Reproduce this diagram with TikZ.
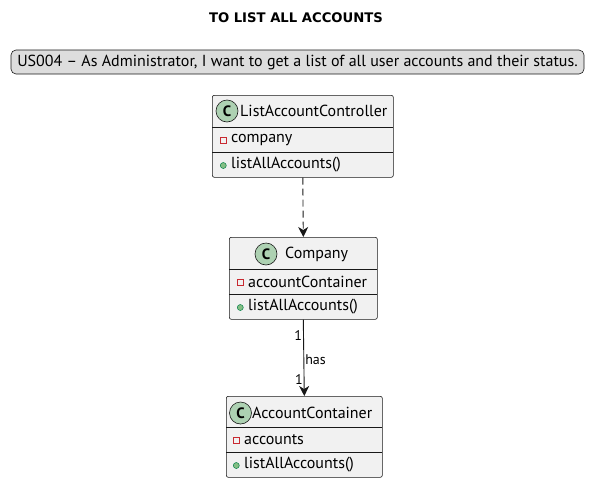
\documentclass[tikz,border=0pt]{standalone}
\usepackage{fontspec}
\setmainfont{PT Sans}
\newfontfamily\titlefont{DejaVu Sans}
\usetikzlibrary{arrows.meta}
\definecolor{boxfill}{HTML}{F1F1F1}
\definecolor{boxline}{HTML}{181818}
\definecolor{spotfill}{HTML}{ADD1B2}
\definecolor{privred}{HTML}{C82930}
\definecolor{pubgreen}{HTML}{84BE84}
\definecolor{publine}{HTML}{038048}
\definecolor{notefill}{HTML}{DDDDDD}
\begin{document}
\begin{tikzpicture}[x=1pt,y=-1pt,
    classbox/.style={draw=boxline,fill=boxfill,rounded corners=2pt,line width=0.6pt,anchor=north west,inner sep=0pt},
    spot/.style={circle,draw=boxline,fill=spotfill,minimum size=22pt,inner sep=0pt,line width=0.6pt,font=\bfseries\fontsize{15}{15}\selectfont},
    lbl/.style={anchor=west,inner sep=0pt,font=\fontsize{16}{16}\selectfont},
    priv/.style={draw=privred,minimum size=5.5pt,inner sep=0pt,line width=0.7pt},
    pub/.style={circle,draw=publine,fill=pubgreen,minimum size=6pt,inner sep=0pt,line width=0.5pt},
    sep/.style={draw=boxline,line width=0.6pt},
    assoc/.style={draw=boxline,line width=0.9pt,-{Stealth[length=10pt,width=10pt,inset=3pt]}},
    mult/.style={inner sep=1pt,font=\fontsize{14}{14}\selectfont}]
  \useasboundingbox (0,0) rectangle (599,482);
  % title and note
  \node[font=\titlefont\bfseries\fontsize{13.2}{13.2}\selectfont] (title) at (296,18) {TO LIST ALL ACCOUNTS};
  \node[draw=boxline,fill=notefill,rounded corners=5pt,line width=0.6pt,minimum width=573pt,minimum height=24pt,inner sep=0pt,font=\fontsize{16}{16}\selectfont] (note) at (297.5,62) {US004 – As Administrator, I want to get a list of all user accounts and their status.};
  % ListAccountController
  \node[classbox,minimum width=181pt,minimum height=82pt] (lac) at (212,95) {};
  \draw[sep] (212,127) -- (393,127);
  \draw[sep] (212,152) -- (393,152);
  \node[spot] (lacspot) at (227,111) {C};
  \node[lbl] (lacname) at (240,111) {ListAccountController};
  \node[priv] (lacpriv) at (223.3,140.5) {};
  \node[lbl] (lacattr) at (231,140) {company};
  \node[pub] (lacpub) at (223.3,165.5) {};
  \node[lbl] (lacop) at (231,165) {listAllAccounts()};
  % Company
  \node[classbox,minimum width=148pt,minimum height=82pt] (comp) at (229,237) {};
  \draw[sep] (229,269) -- (377,269);
  \draw[sep] (229,294) -- (377,294);
  \node[spot] (compspot) at (266,254) {C};
  \node[lbl] (compname) at (285,254) {Company};
  \node[priv] (comppriv) at (240.3,282.5) {};
  \node[lbl] (compattr) at (248,282) {accountContainer};
  \node[pub] (comppub) at (240.3,307.5) {};
  \node[lbl] (compop) at (248,307) {listAllAccounts()};
  % AccountContainer
  \node[classbox,minimum width=156pt,minimum height=81pt] (acc) at (226,396) {};
  \draw[sep] (226,427) -- (382,427);
  \draw[sep] (226,452) -- (382,452);
  \node[spot] (accspot) at (240.5,413) {C};
  \node[lbl] (accname) at (252,413) {AccountContainer};
  \node[priv] (accpriv) at (236.3,440.5) {};
  \node[lbl] (accattr) at (244,440) {accounts};
  \node[pub] (accpub) at (236.3,465.5) {};
  \node[lbl] (accop) at (244,465) {listAllAccounts()};
  % connectors
  \draw[assoc,dash pattern=on 7pt off 4pt] (lac.south) -- (comp.north);
  \draw[assoc] (comp.south) -- node[mult,pos=.21,anchor=east] {1} node[mult,pos=.52,anchor=west] {has} node[mult,pos=.78,anchor=east] {1} (acc.north);
\end{tikzpicture}
\end{document}
